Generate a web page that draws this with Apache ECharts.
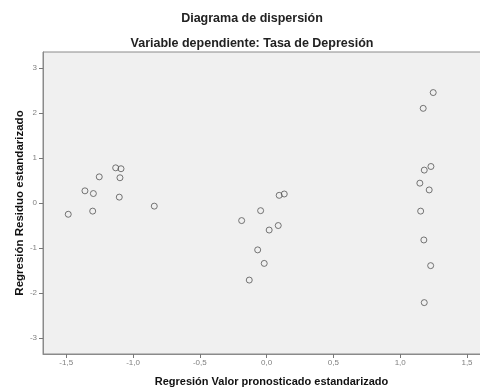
<!DOCTYPE html>
<html>
<head>
<meta charset="utf-8">
<script src="https://cdn.jsdelivr.net/npm/echarts@6/dist/echarts.min.js"></script>
<style>
  html, body { margin: 0; padding: 0; background: #ffffff; overflow: hidden; }
  #chart { width: 480px; height: 389px; }
</style>
</head>
<body>
<div id="chart"></div>
<script>
// Standardized predicted value (x) and standardized residual (y) per case
const predicted = [
  -1.485, -1.36, -1.297, -1.302, -1.253, -1.13, -1.09, -1.098, -1.103, -0.841,
  0.094, 0.132, -0.045, -0.187, 0.087, 0.019, -0.067, -0.018, -0.13,
  1.247, 1.172, 1.23, 1.18, 1.147, 1.217, 1.153, 1.177, 1.228, 1.18
];
const residual = [
  -0.25, 0.27, 0.21, -0.18, 0.58, 0.78, 0.76, 0.56, 0.13, -0.07,
  0.17, 0.20, -0.17, -0.39, -0.50, -0.60, -1.04, -1.34, -1.71,
  2.45, 2.10, 0.81, 0.73, 0.44, 0.29, -0.18, -0.82, -1.39, -2.21
];

// Tick positions shown on each axis
const xTicks = [-1.5, -1.0, -0.5, 0.0, 0.5, 1.0, 1.5];
const yTicks = [-3, -2, -1, 0, 1, 2, 3];

const titleText = 'Diagrama de dispersión';
const subtitleText = 'Variable dependiente: Tasa de Depresión';
const xName = 'Regresión Valor pronosticado estandarizado';
const yName = 'Regresión Residuo estandarizado';

const points = predicted.map((x, i) => [x, residual[i]]);

const fontFamily = '"Liberation Sans", Arial, sans-serif';

const chart = echarts.init(document.getElementById('chart'), null, { renderer: 'canvas' });
chart.setOption({
  animation: false,
  backgroundColor: '#ffffff',
  title: [
    {
      text: titleText,
      left: 247, top: 7, textAlign: 'center',
      textStyle: { fontFamily, fontSize: 12.5, fontWeight: 'bold', color: '#222' }
    },
    {
      text: subtitleText,
      left: 247, top: 32, textAlign: 'center',
      textStyle: { fontFamily, fontSize: 12.5, fontWeight: 'bold', color: '#222' }
    }
  ],
  // the plot panel runs past the right edge of the canvas
  grid: {
    left: 43, right: -20, top: 52, bottom: 35,
    outerBoundsMode: 'none',
    show: true,
    backgroundColor: '#f0f0f0',
    borderColor: '#8a8a8a',
    borderWidth: 1
  },
  xAxis: {
    type: 'value',
    min: -1.674, max: 1.747,
    name: xName,
    nameLocation: 'middle',
    nameGap: 22,
    nameTextStyle: { fontFamily, fontSize: 11, fontWeight: 'bold', color: '#111' },
    splitLine: { show: false },
    axisLine: { show: true, onZero: false, lineStyle: { color: '#8a8a8a' } },
    axisTick: { show: true, length: 4, lineStyle: { color: '#777' }, customValues: xTicks },
    axisLabel: {
      customValues: xTicks,
      fontFamily, fontSize: 8, color: '#808080', margin: 5,
      formatter: v => v.toFixed(1).replace('.', ',')
    }
  },
  yAxis: {
    type: 'value',
    min: -3.35, max: 3.35,
    name: yName,
    nameLocation: 'middle',
    nameGap: 17,
    nameMoveOverlap: false,
    nameTextStyle: { fontFamily, fontSize: 11.5, fontWeight: 'bold', color: '#111' },
    splitLine: { show: false },
    axisLine: { show: true, onZero: false, lineStyle: { color: '#8a8a8a' } },
    axisTick: { show: true, length: 4, lineStyle: { color: '#777' }, customValues: yTicks },
    axisLabel: {
      customValues: yTicks,
      fontFamily, fontSize: 8, color: '#808080', margin: 6,
      formatter: v => String(v)
    }
  },
  series: [{
    type: 'scatter',
    data: points,
    symbol: 'circle',
    symbolSize: 6,
    itemStyle: { color: 'rgba(0,0,0,0)', borderColor: '#555', borderWidth: 1 }
  }]
});
</script>
</body>
</html>
